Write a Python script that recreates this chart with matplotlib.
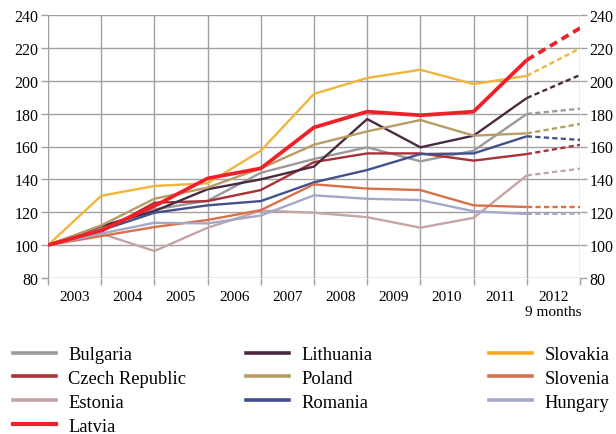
import matplotlib
matplotlib.use("Agg")
import matplotlib.pyplot as plt
from matplotlib.lines import Line2D

plt.rcParams['font.family'] = ['Liberation Serif', 'DejaVu Serif']

# ---- data ----
periods = ["2003", "2004", "2005", "2006", "2007", "2008", "2009", "2010", "2011", "2012\n9 months"]

countries = ["Bulgaria", "Czech Republic", "Estonia", "Latvia", "Lithuania",
             "Poland", "Romania", "Slovakia", "Slovenia", "Hungary"]

bulgaria  = [100, 111, 121.7, 127, 144, 152.4, 159.5, 151, 157.4, 179.8, 183]
czech     = [100, 108, 125.8, 126.8, 133.5, 150.5, 155.8, 155.8, 151.4, 155.4, 161]
estonia   = [100, 107, 96.4, 110.6, 121, 119.7, 117, 110.6, 116.6, 142.4, 146.5]
latvia    = [100, 109, 123.8, 140.6, 146.7, 171.6, 181.2, 179, 181.2, 212.6, 232]
lithuania = [100, 111.6, 120.7, 134, 140, 147.8, 176.7, 159.5, 166.6, 189.5, 203.5]
poland    = [100, 112, 128.2, 135, 146.7, 161.1, 169.2, 176.1, 166.6, 168, 173.7]
romania   = [100, 109, 119.7, 124.2, 126.8, 138.2, 145.7, 155.4, 155.8, 166.2, 164]
slovakia  = [100, 130, 136, 137.6, 157.4, 192, 201.7, 206.7, 198, 203, 219.7]
slovenia  = [100, 105.5, 111, 115.3, 121.3, 137, 134.4, 133.5, 124.2, 123.2, 123.2]
hungary   = [100, 107, 113.6, 113.2, 118, 130.3, 128.2, 127.4, 120.6, 119, 119.2]

series = [bulgaria, czech, estonia, latvia, lithuania, poland, romania, slovakia, slovenia, hungary]
colors = ["#9a9a9a", "#a83238", "#c4a4a4", "#f02028", "#4a2a40",
          "#b89c64", "#44508c", "#f0b53a", "#d8704a", "#a4a8c8"]
legend_colors = ["#9a9a9a", "#a83238", "#c4a4a4", "#f02028", "#4a2a40",
                 "#b89c64", "#44508c", "#f7ab1c", "#d8704a", "#a4a8c8"]
widths = [1.7, 1.7, 1.7, 2.7, 1.7, 1.7, 1.7, 1.7, 1.7, 1.7]

fig = plt.figure(figsize=(6.16, 4.35), dpi=100)
ax = fig.add_axes([48/616, 1-279/435, (580-48)/616, (279-16)/435])

n = len(periods)
xs = list(range(n + 1))
for vals, c, lw, name in zip(series, colors, widths, countries):
    z = 5 if name == "Latvia" else 3
    ax.plot(xs[:n], vals[:n], color=c, lw=lw, solid_capstyle='butt', zorder=z)
    ax.plot(xs[n-1:], vals[n-1:], color=c, lw=lw, linestyle=(0, (2.2, 1.4)),
            dash_capstyle='butt', zorder=z)

ax.set_xlim(0, n)
ax.set_ylim(80, 240)
ax.set_yticks(range(80, 241, 20))
ax.set_xticks(range(0, n + 1))
ax.set_xticklabels([])
ax.set_xticks([i + 0.5 for i in range(n)], minor=True)
ax.set_xticklabels(periods, minor=True, fontsize=11, linespacing=1.15)
ax.tick_params(axis='x', which='minor', length=0, pad=9)
ax.tick_params(axis='x', which='major', length=5, color="#a0a0a0", width=1)
ax.tick_params(axis='y', which='major', length=5, color="#a0a0a0", width=1,
               labelsize=11.5, left=True, right=True, labelleft=True, labelright=True, pad=2)
ax.grid(True, which='major', color="#a0a0a0", lw=1.0)
ax.set_axisbelow(True)
for s in ax.spines.values():
    s.set_visible(False)

# legend in three columns
col_groups = [[0, 1, 2, 3], [4, 5, 6], [7, 8, 9]]
col_x = [13, 246, 489]
for grp, xpix in zip(col_groups, col_x):
    handles = [Line2D([], [], color=legend_colors[i], lw=3.0 if i == 3 else 2.6) for i in grp]
    labels = [countries[i] for i in grp]
    fig.legend(handles, labels, loc='upper left', bbox_to_anchor=(xpix/616, 1-347/435),
               frameon=False, fontsize=13.3, handlelength=2.35, handletextpad=0.65,
               labelspacing=0.37, borderpad=0, borderaxespad=0)

fig.savefig("out.png", dpi=100)
